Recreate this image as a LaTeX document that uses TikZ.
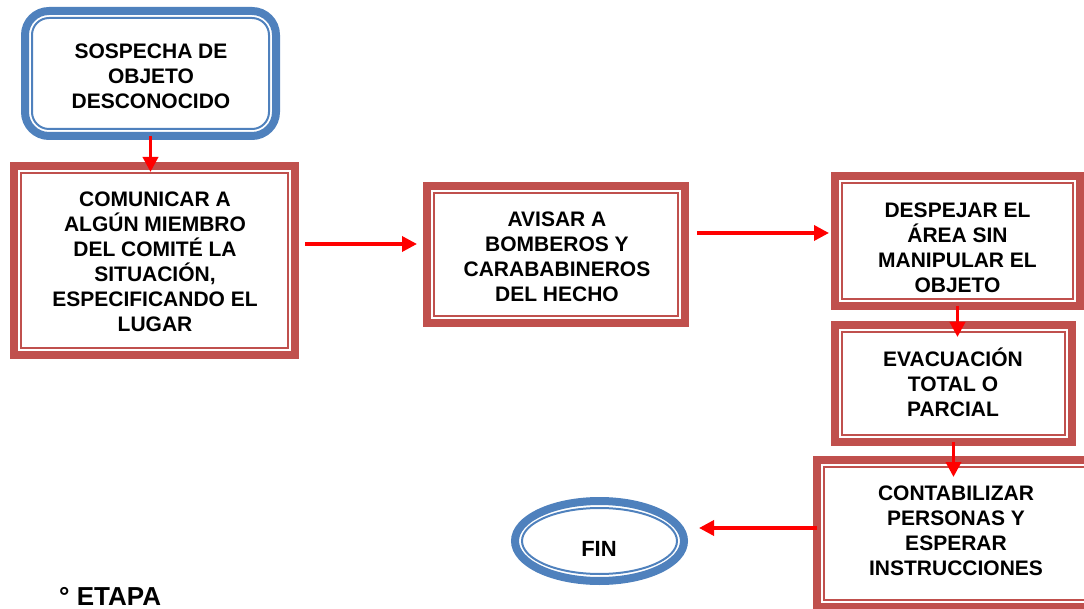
\documentclass[tikz,border=0pt]{standalone}
\usepackage{fontspec}
\setmainfont{Liberation Sans}
\usetikzlibrary{arrows.meta,calc,shapes.geometric}
\definecolor{cblue}{RGB}{79,129,189}
\definecolor{cred}{RGB}{192,80,77}
\definecolor{carrow}{RGB}{255,0,0}
\begin{document}
\begin{tikzpicture}[x=1pt,y=-1pt,
  redbox/.style={rectangle, draw=cred, line width=8pt, inner sep=0pt, outer sep=0pt},
  redinner/.style={draw=cred, line width=2pt},
  bluebox/.style={rectangle, rounded corners=24pt, draw=cblue, line width=8pt, inner sep=0pt, outer sep=0pt},
  blueinner/.style={draw=cblue, line width=2pt, rounded corners=17pt},
  blueoval/.style={ellipse, draw=cblue, line width=8pt, inner sep=0pt, outer sep=0pt},
  txt/.style={align=center, font=\fontsize{21}{25}\selectfont\bfseries, inner sep=0pt},
  arr/.style={draw=carrow, line width=3.5pt, -{Triangle[length=15pt,width=15pt]}},
]
\useasboundingbox (0,0) rectangle (1084,609);

% boxes
\node[bluebox, minimum width=251pt, minimum height=125pt] (b1) at (150.5,73.5) {};
\node[redbox, minimum width=281pt, minimum height=189pt] (b2) at (154.5,260.5) {};
\node[redbox, minimum width=258pt, minimum height=137pt] (b3) at (556,254.5) {};
\node[redbox, minimum width=245pt, minimum height=130pt] (b4) at (957.5,241) {};
\node[redbox, minimum width=237pt, minimum height=117pt] (b5) at (953.5,383.5) {};
\node[redbox, minimum width=278pt, minimum height=147pt] (b6) at (956,533.5) {};
\node[blueoval, minimum width=169pt, minimum height=80pt] (fin) at (599.5,541) {};

% inner thin lines
\draw[blueinner] ([shift={(7pt,-7pt)}]b1.north west) rectangle ([shift={(-7pt,7pt)}]b1.south east);
\foreach \n in {b2,b3,b4,b5,b6}
  \draw[redinner] ([shift={(7pt,-7pt)}]\n.north west) rectangle ([shift={(-7pt,7pt)}]\n.south east);
\draw[draw=cblue, line width=2pt] (fin.center) ellipse [x radius=77.5pt, y radius=33pt];

% texts
\node[txt] (t1) at (151,76.5) {SOSPECHA DE\\OBJETO\\DESCONOCIDO};
\node[txt] (t2) at (155,262) {COMUNICAR A\\ALGÚN MIEMBRO\\DEL COMITÉ LA\\SITUACIÓN,\\ESPECIFICANDO EL\\LUGAR};
\node[txt] (t3) at (557,257.2) {AVISAR A\\BOMBEROS Y\\CARABABINEROS\\DEL HECHO};
\node[txt] (t4) at (957.5,247.5) {DESPEJAR EL\\ÁREA SIN\\MANIPULAR EL\\OBJETO};
\node[txt] (t5) at (953,382) {EVACUACIÓN\\TOTAL O\\PARCIAL};
\node[txt] (t6) at (956,531) {CONTABILIZAR\\PERSONAS Y\\ESPERAR\\INSTRUCCIONES};
\node[font=\fontsize{22}{26}\selectfont\bfseries, inner sep=0pt] (tfin) at (599,548.5) {FIN};
\node[font=\fontsize{26}{30}\selectfont\bfseries, inner sep=0pt, anchor=base west] (etapa) at (59,605) {° ETAPA};

% connectors
\draw[arr] (b1.south) -- ([yshift=-6pt]b1.south |- b2.north);
\coordinate (a2s) at ([xshift=10pt,yshift=16.5pt]b2.east);
\draw[arr] (a2s) -- ($(b3.west |- a2s)+(-10pt,0pt)$);
\coordinate (a3s) at ([xshift=12pt,yshift=21.5pt]b3.east);
\draw[arr] (a3s) -- ($(b4.west |- a3s)+(-6pt,0pt)$);
\draw[arr] (b4.south) -- ([yshift=-12pt]b4.south |- b5.north);
\draw[arr] (b5.south) -- ([yshift=-17pt]b5.south |- b6.north);
\coordinate (a6s) at ([yshift=5.5pt]b6.west);
\draw[arr] (a6s) -- ($(fin.east |- a6s)+(15pt,0pt)$);
\end{tikzpicture}
\end{document}
